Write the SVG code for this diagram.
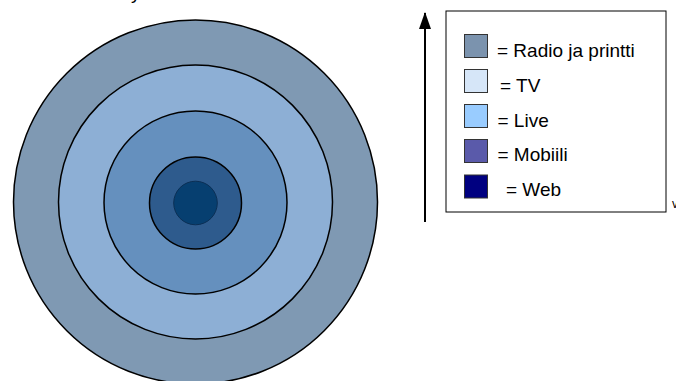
<svg xmlns="http://www.w3.org/2000/svg" width="676" height="381" viewBox="0 0 676 381">
<style>
.ring{stroke:#000;stroke-width:1.5}
.sw{stroke:#333;stroke-width:1}
.lbl{font-family:"Liberation Sans",Arial,sans-serif;font-size:19px;fill:#000}
</style>
<defs>
<marker id="ah" markerWidth="17" markerHeight="12" refX="16" refY="6" orient="auto" markerUnits="userSpaceOnUse" viewBox="0 0 17 12">
<path d="M0,0 L17,6 L0,12 Z" fill="#000"/>
</marker>
</defs>
<rect width="676" height="381" fill="#fff"/>
<text class="lbl" x="131" y="-1">y</text>
<g id="rings">
<g id="ring-radio"><circle class="ring" cx="195.5" cy="202" r="182" fill="#7F99B3"/></g>
<g id="ring-tv"><circle class="ring" cx="195.5" cy="202" r="137" fill="#8DAFD5"/></g>
<g id="ring-live"><circle class="ring" cx="195.5" cy="202.5" r="91.5" fill="#6590BE"/></g>
<g id="ring-mobiili"><circle class="ring" cx="195.5" cy="203" r="46" fill="#2E5B8D"/></g>
<g id="ring-web"><circle cx="195.5" cy="203" r="21.8" fill="#063F70" stroke="#0B2F55" stroke-width="1"/></g>
</g>
<g id="connectors">
<line x1="425" y1="222" x2="425" y2="13" stroke="#000" stroke-width="2" marker-end="url(#ah)"/>
</g>
<g id="legend">
<rect x="446" y="11" width="220" height="201" fill="#fff" stroke="#000" stroke-width="1"/>
<g id="leg-radio"><rect class="sw" x="464.5" y="34.5" width="23" height="23" fill="#7B93AE"/><text class="lbl" x="497" y="57">= Radio ja printti</text></g>
<g id="leg-tv"><rect class="sw" x="464.5" y="69.5" width="23" height="23" fill="#D6E6F8"/><text class="lbl" x="500" y="92">= TV</text></g>
<g id="leg-live"><rect class="sw" x="464.5" y="104.5" width="23" height="23" fill="#99CCFF"/><text class="lbl" x="497.5" y="126.5">= Live</text></g>
<g id="leg-mobiili"><rect class="sw" x="464.5" y="139.5" width="23" height="23" fill="#5A5AAA"/><text class="lbl" x="497.5" y="161">= Mobiili</text></g>
<g id="leg-web"><rect class="sw" x="464.5" y="175" width="23" height="23" fill="#000080"/><text class="lbl" x="506" y="195.5">= Web</text></g>
</g>
<text x="672" y="208" style="font-family:'Liberation Sans',Arial,sans-serif;font-size:12px">v</text>
</svg>
